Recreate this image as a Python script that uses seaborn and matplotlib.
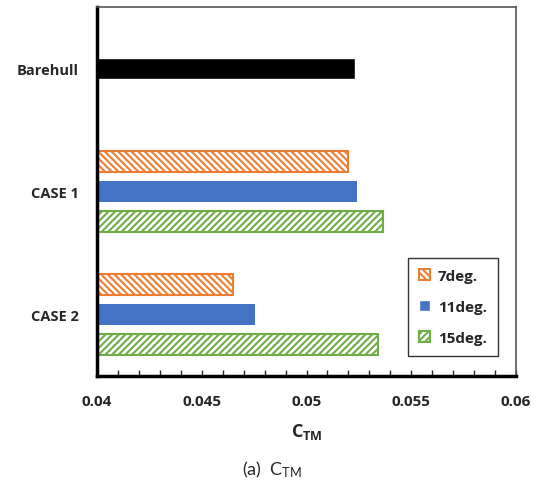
import numpy as np
import pandas as pd
import matplotlib
matplotlib.use("Agg")
import matplotlib.pyplot as plt
from matplotlib.patches import Patch
from matplotlib.ticker import MultipleLocator, FuncFormatter
import seaborn as sns

# data
categories = ["Barehull", "CASE 1", "CASE 2"]
angles = ["7deg.", "11deg.", "15deg."]
cases = ["CASE 1", "CASE 2"]
ctm_7deg = [0.0520, 0.0465]
ctm_11deg = [0.0524, 0.04755]
ctm_15deg = [0.05365, 0.0534]
ctm_barehull = [0.0523]

colors = {"7deg.": "#ED7D31", "11deg.": "#4472C4", "15deg.": "#70AD47"}
hatches = {"7deg.": "\\" * 5, "11deg.": None, "15deg.": "/" * 5}

sns.set_style("ticks")
plt.rcParams["font.family"] = ["Open Sans", "DejaVu Sans"]
plt.rcParams["mathtext.fontset"] = "custom"
plt.rcParams["mathtext.rm"] = "Lato"
plt.rcParams["mathtext.bf"] = "Open Sans:weight=bold"
plt.rcParams["hatch.linewidth"] = 1.5

rows = []
for angle, vals in zip(angles, [ctm_7deg, ctm_11deg, ctm_15deg]):
    for case, v in zip(cases, vals):
        rows.append({"case": case, "angle": angle, "ctm": v})
df = pd.DataFrame(rows)
df_bare = pd.DataFrame({"case": ["Barehull"], "ctm": ctm_barehull})

fig = plt.figure(figsize=(5.45, 4.89), dpi=100)
ax = fig.add_axes([97 / 545, 1 - 377 / 489, 419 / 545, 369 / 489])

sns.barplot(data=df, y="case", x="ctm", hue="angle", order=categories,
            hue_order=angles, orient="h", width=0.732, gap=0.3,
            palette=colors, saturation=1, errorbar=None, legend=False, ax=ax)
sns.barplot(data=df_bare, y="case", x="ctm", order=categories, orient="h",
            width=0.17, color="black", saturation=1, errorbar=None, ax=ax)

handles = []
for cont, angle in zip(ax.containers[:3], angles):
    for bar in cont:
        if hatches[angle]:
            bar.set_facecolor("white")
            bar.set_edgecolor(colors[angle])
            bar.set_hatch(hatches[angle])
            bar.set_linewidth(1.5)
        else:
            bar.set_linewidth(0)
    if hatches[angle]:
        handles.append(Patch(facecolor="white", edgecolor=colors[angle],
                             hatch=hatches[angle], linewidth=1.5, label=angle))
    else:
        handles.append(Patch(facecolor=colors[angle], label=angle))

ax.set_xlim(0.04, 0.06)
ax.xaxis.set_major_locator(MultipleLocator(0.005))
ax.xaxis.set_minor_locator(MultipleLocator(0.001))
ax.xaxis.set_major_formatter(FuncFormatter(lambda v, p: f"{v:g}"))
ax.tick_params(axis="x", which="both", direction="in", length=4, width=1,
               pad=13, labelsize=11)
ax.tick_params(axis="y", direction="in", length=4, width=2, pad=13,
               labelsize=10.5)
for lab in ax.get_xticklabels() + ax.get_yticklabels():
    lab.set_fontweight("bold")

ax.set_ylabel("")
ax.set_xlabel(r"$\mathbf{C_{TM}}$", fontsize=13, labelpad=9)

for side in ["left", "bottom"]:
    ax.spines[side].set_linewidth(2.5)
    ax.spines[side].set_color("black")
for side in ["top", "right"]:
    ax.spines[side].set_visible(True)
    ax.spines[side].set_linewidth(1.2)
    ax.spines[side].set_color("#555555")

leg = ax.legend(handles=handles, loc="lower left",
                bbox_to_anchor=(0.742, 0.054, 0.215, 0.282), mode="expand",
                frameon=True, fancybox=False, edgecolor="black",
                handlelength=0.7, handleheight=0.7, handletextpad=0.5,
                labelspacing=1.1, borderpad=0.75, borderaxespad=0,
                prop={"weight": "bold", "size": 11})
leg.get_frame().set_linewidth(1.0)

fig.text(0.5, 1 - 470 / 489, r"(a)  $\mathrm{C_{TM}}$", ha="center",
         va="center", fontsize=13, family="Lato")

fig.savefig("out.png", dpi=100)
